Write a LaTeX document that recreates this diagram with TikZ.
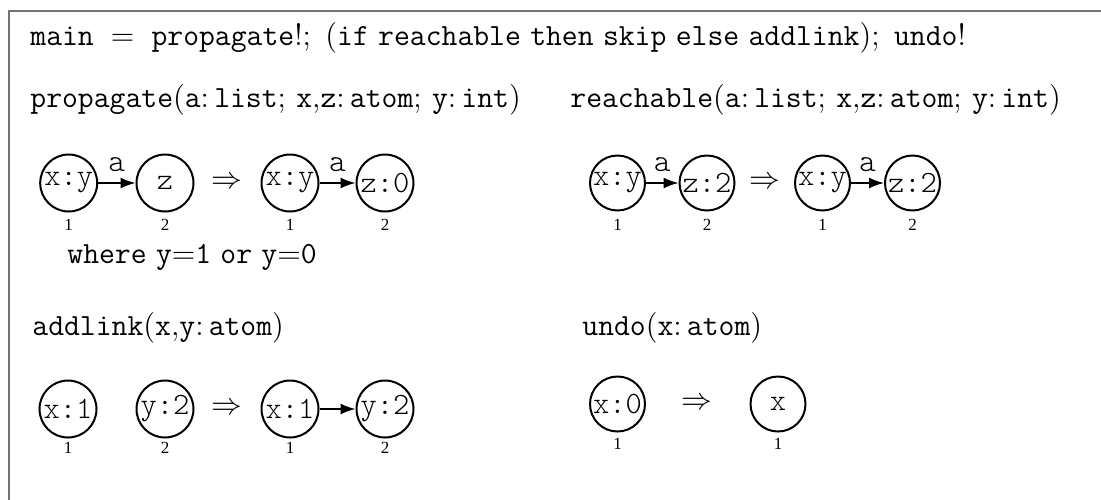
\RequirePackage{fix-cm}
\documentclass[tikz,border=0pt]{standalone}
\usepackage{fontspec}
\usetikzlibrary{arrows.meta}
\newfontfamily\tms{Liberation Serif}
\newcommand\lmtl{\ttfamily\fontseries{l}\selectfont}
\newcommand\nl[1]{\makebox[0pt]{#1}}
\begin{document}
\begin{tikzpicture}[x=0.5pt,y=-0.5pt,
  txt/.style={anchor=base west, inner sep=0pt, font=\fontsize{15.4}{18}\selectfont},
  st/.style={circle, draw, line width=1pt, minimum size=28.5pt, inner sep=0pt, font=\fontsize{15.5}{18}\lmtl},
  stb/.style={st, minimum size=27.5pt},
  idx/.style={font=\tms\fontsize{8.5}{9}\selectfont, inner sep=0pt},
  lnk/.style={-{Latex[length=7.5pt,width=5.5pt]}, line width=0.8pt},
  elab/.style={font=\fontsize{16}{18}\lmtl, inner sep=0pt},
  impl/.style={font=\fontsize{15.4}{18}\selectfont, inner sep=0pt}
]
\useasboundingbox (0,0) rectangle (1101,499);
\draw[gray!90!black, line width=0.75pt] (9,520) |- (1130,11);

\node[txt] (main) at (30,45) {$\mathtt{main}\;=\;\mathtt{propagate}!;\ (\mathtt{if}\ \mathtt{reachable}\ \mathtt{then}\ \mathtt{skip}\ \mathtt{else}\ \mathtt{addlink});\ \mathtt{undo}!$};

\node[txt] (hp) at (30,107) {$\mathtt{propagate}(\mathtt{a}\colon \mathtt{list};\, \mathtt{x}{,}\mathtt{z}\colon \mathtt{atom};\, \mathtt{y}\colon \mathtt{int})$};
\node[txt] (hr) at (570,107) {$\mathtt{reachable}(\mathtt{a}\colon \mathtt{list};\, \mathtt{x}{,}\mathtt{z}\colon \mathtt{atom};\, \mathtt{y}\colon \mathtt{int})$};

% propagate
\node[st] (p1) at (68.7,183) {\nl{x:y}};
\node[st] (p2) at (165,183) {\nl{z}};
\node[impl] (pi) at (227,183) {$\Rightarrow$};
\node[st] (p3) at (290,183) {\nl{x:y}};
\node[st] (p4) at (385,183) {\nl{z:0}};
\draw[lnk] (p1) -- (p2) node[midway, elab, yshift=9pt] (pa1) {a};
\draw[lnk] (p3) -- (p4) node[midway, elab, yshift=9pt] (pa2) {a};
\node[idx] (pn1) at (68.7,225) {1};
\node[idx] (pn2) at (165,225) {2};
\node[idx] (pn3) at (290,225) {1};
\node[idx] (pn4) at (385,225) {2};
\node[txt] (where) at (67,263) {\texttt{where} $\mathtt{y}{=}\mathtt{1}$ \texttt{or} $\mathtt{y}{=}\mathtt{0}$};

% reachable
\node[stb] (r1) at (617.5,183) {\nl{x:y}};
\node[stb] (r2) at (707,183) {\nl{z:2}};
\node[impl] (ri) at (765,183) {$\Rightarrow$};
\node[stb] (r3) at (822.5,183) {\nl{x:y}};
\node[stb] (r4) at (912.5,183) {\nl{z:2}};
\draw[lnk] (r1) -- (r2) node[midway, elab, yshift=9pt] (ra1) {a};
\draw[lnk] (r3) -- (r4) node[midway, elab, yshift=9pt] (ra2) {a};
\node[idx] (rn1) at (617.5,225) {1};
\node[idx] (rn2) at (707,225) {2};
\node[idx] (rn3) at (822.5,225) {1};
\node[idx] (rn4) at (912.5,225) {2};

% addlink
\node[txt] (ha) at (32,335) {$\mathtt{addlink}(\mathtt{x}{,}\mathtt{y}\colon \mathtt{atom})$};
\node[st] (a1) at (68,409) {\nl{x:1}};
\node[st] (a2) at (165,409) {\nl{y:2}};
\node[impl] (ai) at (227,409) {$\Rightarrow$};
\node[st] (a3) at (290,409) {\nl{x:1}};
\node[st] (a4) at (385,409) {\nl{y:2}};
\draw[lnk] (a3) -- (a4);
\node[idx] (an1) at (68,448) {1};
\node[idx] (an2) at (165,448) {2};
\node[idx] (an3) at (290,448) {1};
\node[idx] (an4) at (385,448) {2};

% undo
\node[txt] (hu) at (582,335) {$\mathtt{undo}(\mathtt{x}\colon \mathtt{atom})$};
\node[stb] (u1) at (617.5,404) {\nl{x:0}};
\node[impl] (ui) at (697,404) {$\Rightarrow$};
\node[stb] (u2) at (778,404) {\nl{x}};
\node[idx] (un1) at (617.5,444) {1};
\node[idx] (un2) at (778,444) {1};
\end{tikzpicture}
\end{document}
